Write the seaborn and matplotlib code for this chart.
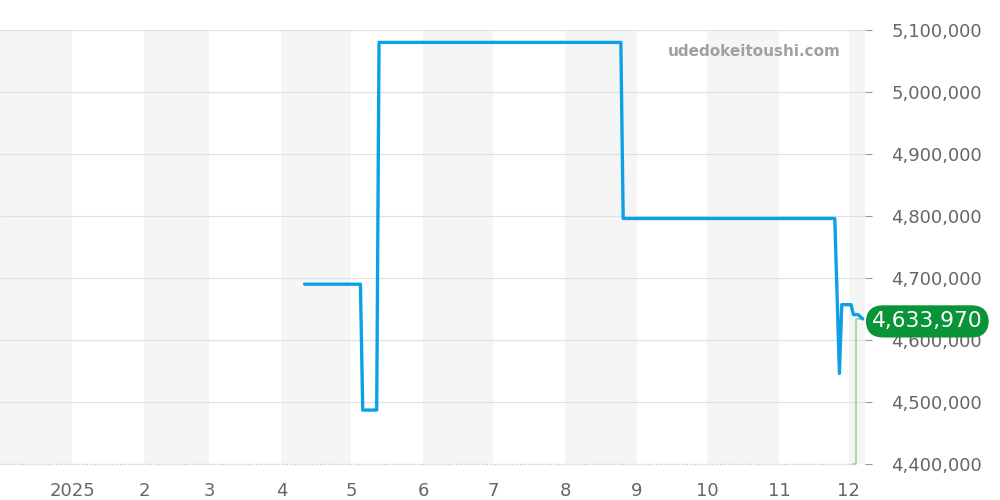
import pandas as pd
import numpy as np
import matplotlib.pyplot as plt
import matplotlib.dates as mdates
import matplotlib.transforms as mtransforms
import seaborn as sns

# price series (blue line)
price_dates = ["2025-04-11", "2025-05-05", "2025-05-06", "2025-05-12", "2025-05-13",
               "2025-08-25", "2025-08-26", "2025-11-25", "2025-11-27", "2025-11-28",
               "2025-12-02", "2025-12-03", "2025-12-05", "2025-12-07"]
price_values = [4690000, 4690000, 4487000, 4487000, 5080000,
                5080000, 4796000, 4796000, 4546000, 4657000,
                4657000, 4641000, 4641000, 4633970]

# green series (flat at the bottom with one spike)
green_dates = ["2024-12-01", "2025-12-03", "2025-12-04", "2025-12-04", "2025-12-07"]
green_values = [4400000, 4400000, 4400000, 4633970, 4633970]

last_price = 4633970
y_ticks = [4400000, 4500000, 4600000, 4700000, 4800000, 4900000, 5000000, 5100000]
month_ticks = ["2025-01-01", "2025-02-01", "2025-03-01", "2025-04-01", "2025-05-01",
               "2025-06-01", "2025-07-01", "2025-08-01", "2025-09-01", "2025-10-01",
               "2025-11-01", "2025-12-01"]
month_labels = ["2025", "2", "3", "4", "5", "6", "7", "8", "9", "10", "11", "12"]

df = pd.DataFrame({"date": pd.to_datetime(price_dates), "price": price_values})
gdf = pd.DataFrame({"date": pd.to_datetime(green_dates), "value": green_values})

sns.set_style("white")
plt.rcParams['font.family'] = ['DejaVu Sans']

fig = plt.figure(figsize=(10, 5), dpi=100)
ax = fig.add_axes([0.0, 0.072, 0.865, 0.868])

# alternating month shading
x_start = pd.Timestamp("2024-12-01")
x_end = pd.Timestamp("2025-12-08")
shade_starts = ["2024-12-01", "2025-02-01", "2025-04-01", "2025-06-01",
                "2025-08-01", "2025-10-01", "2025-12-01"]
for s in shade_starts:
    a = pd.Timestamp(s)
    b = min(a + pd.offsets.MonthBegin(1), x_end)
    ax.axvspan(a, b, color="#f5f5f5", zorder=0, lw=0)

for yt in y_ticks[1:]:
    ax.axhline(yt, color="#e0e0e0", lw=0.8, zorder=1)

# green series: dotted baseline plus the final spike
ax.plot(gdf["date"][:2], gdf["value"][:2], color="#a8dca8", lw=1.0, ls=(0, (1, 1)),
        zorder=2, clip_on=False)
ax.plot(gdf["date"][1:], gdf["value"][1:], color="#9ad89a", lw=1.2, zorder=2,
        clip_on=False)
sns.lineplot(data=df, x="date", y="price", ax=ax, color="#0ea0e6", lw=2.4, zorder=3)

ax.set_xlim(x_start, x_end)
ax.set_ylim(4400000, 5100000)

ax.yaxis.tick_right()
ax.set_yticks(y_ticks)
ax.set_yticklabels([f"{v:,}" for v in y_ticks])
ax.set_xticks(pd.to_datetime(month_ticks))
ax.set_xticklabels(month_labels)
ax.tick_params(axis="both", colors="#666666", labelsize=13, length=5, width=0.8,
               direction="out")
ax.tick_params(axis="y", pad=14, color="#999999")
ax.tick_params(axis="x", pad=8, color="#cccccc")
ax.set_xlabel("")
ax.set_ylabel("")
for sp in ax.spines.values():
    sp.set_visible(False)

# last price badge
trans = mtransforms.blended_transform_factory(ax.transAxes, ax.transData)
ax.text(1.008, last_price - 4000, f"{last_price:,}", transform=trans, ha="left",
        va="center", fontsize=15.7, color="white", zorder=5, clip_on=False,
        bbox=dict(boxstyle="round,pad=0.28,rounding_size=0.8", fc="#0a9438", ec="none"))

ax.text(0.972, 0.95, "udedokeitoushi.com", transform=ax.transAxes, ha="right",
        va="center", fontsize=11, fontweight="bold", color="#a0a0a0", zorder=5)

plt.savefig("out.png", dpi=100)
